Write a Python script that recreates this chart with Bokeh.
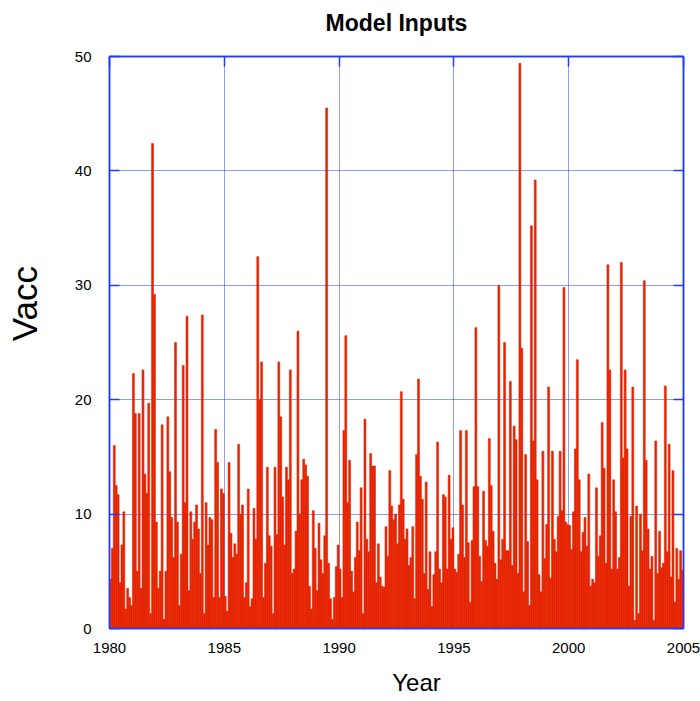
from bokeh.plotting import figure
from bokeh.models import FixedTicker, LinearAxis, Range1d, ColumnDataSource
from bokeh.embed import file_html
from bokeh.resources import INLINE

# Monthly Vacc model input, one list per five-year block (Jan..Dec per row)
vacc_1980_1984 = [
    4.3, 7, 16, 12.5, 11.7, 4, 7.3, 10.2, 1.7, 3.5, 2.7, 2,
    22.3, 18.8, 5, 18.8, 3.5, 22.6, 13.5, 11.8, 19.7, 1.3, 42.4, 29.2,
    9.3, 3.5, 5, 17.8, 0.8, 5, 18.5, 13.7, 9.7, 6.2, 25, 9.3,
    2, 6.5, 23, 11, 27.3, 3.3, 10.2, 7.8, 9.3, 10.8, 8.7, 4.8,
    27.4, 1.3, 11, 7.3, 9.7, 9.5, 2.7, 17.4, 14.5, 2.7, 12.2, 11.8,
]
vacc_1985_1989 = [
    2.8, 1.5, 14.5, 8.3, 6.2, 7.4, 6.5, 16.1, 10, 10.8, 2.7, 4,
    12.2, 1.9, 2.6, 10.5, 7.8, 32.5, 20, 23.3, 2.7, 5.7, 14.1, 8.1,
    7.2, 1.3, 14.1, 8.2, 23.3, 18.5, 11.5, 7.3, 14.1, 13, 22.6, 4.8,
    5.2, 8.5, 26, 10, 13, 14.8, 14.3, 13.3, 3.7, 1.7, 10.3, 7,
    3.3, 9.2, 6, 4.8, 8.1, 45.5, 5.7, 2.6, 0.8, 2.7, 5.4, 7.3,
]
vacc_1990_1994 = [
    5.2, 2.7, 17.3, 25.6, 11, 14.7, 5, 3.2, 6.2, 9.3, 6.8, 12.3,
    1.3, 18.3, 7.8, 6.7, 15.3, 14.2, 14.2, 4, 7.4, 4.5, 3.7, 3.6,
    8.9, 6.3, 13.8, 10.7, 9.5, 10, 7.4, 10.8, 20.7, 11.3, 7.8, 8.7,
    5.5, 6.2, 8.9, 2.6, 15.2, 21.8, 13.3, 11.3, 4.8, 12.8, 3.4, 6.7,
    1.9, 4.7, 6.7, 16.3, 5.2, 4, 11.7, 11.5, 5.2, 13.4, 7.8, 8.8,
]
vacc_1995_1999 = [
    5.2, 4.9, 6.5, 17.3, 10.8, 6.2, 17.3, 7.5, 2.3, 7.7, 12.4, 26.3,
    12.4, 6.3, 4.1, 12, 7.7, 7.2, 16.6, 12.5, 8.5, 5.7, 4.3, 30,
    6, 7.8, 25, 6.8, 6.8, 21.6, 5.5, 17.7, 16.5, 4.8, 49.4, 24.5,
    3.2, 15.2, 7.6, 2, 35.2, 16.4, 39.2, 13, 4.7, 3.2, 15.5, 6.1,
    9.1, 21.1, 4.4, 15.5, 7.8, 6.7, 9.8, 15.5, 10.3, 29.8, 9.3, 9.1,
]
vacc_2000_2004 = [
    9, 6.9, 10.2, 15.7, 23.5, 13, 6.7, 8.4, 9.7, 7.2, 13.5, 3.7,
    4.3, 4, 12.3, 6.3, 8.1, 18, 14, 5.7, 31.8, 22.6, 5.2, 13,
    10.2, 5.2, 6.2, 32, 14.9, 22.6, 15.7, 3.7, 9.8, 21.1, 0.7, 10.7,
    1.3, 10, 6.8, 30.4, 14.7, 8.7, 5.2, 6.3, 0.7, 16.4, 4.8, 8.5,
    5.3, 5.7, 21.2, 6.7, 16.1, 4.5, 13.8, 2.3, 7, 4.3, 6.8, 5.1,
]

start_year = 1980
year_ticks = [1980, 1985, 1990, 1995, 2000, 2005]
vacc_ticks = [0, 10, 20, 30, 40, 50]

vacc = (vacc_1980_1984 + vacc_1985_1989 + vacc_1990_1994
        + vacc_1995_1999 + vacc_2000_2004)
month_mid = [start_year + (i + 0.5) / 12 for i in range(len(vacc))]
src = ColumnDataSource(data=dict(t=month_mid, v=vacc))

BLUE = "#1e3cff"
GRID = "#1a3aff"
RED = "#e52400"
FONT = "Liberation Sans"
NBSP = "\u00a0"

p = figure(
    width=700, height=701,
    x_range=Range1d(year_ticks[0], year_ticks[-1]),
    y_range=Range1d(vacc_ticks[0], vacc_ticks[-1]),
    output_backend="svg", toolbar_location=None,
    min_border_left=109, min_border_right=17,
    min_border_top=56, min_border_bottom=73,
    # the trailing empty line lifts the title away from the frame
    title="Model Inputs\n",
)
p.background_fill_color = "white"
p.border_fill_color = "white"
p.outline_line_color = BLUE
p.outline_line_width = 1.5

p.title.align = "center"
p.title.vertical_align = "bottom"
p.title.text_font = FONT
p.title.text_font_size = "23px"
p.title.text_font_style = "bold"
p.title.text_color = "black"
p.title.text_line_height = 0.8
p.title.standoff = 0

# monthly bars; a thin outline in the fill colour closes the seams between them
p.vbar(x="t", top="v", bottom=0, width=1 / 12, source=src,
       fill_color=RED, line_color=RED, line_width=0.6)

xax = p.xaxis[0]
yax = p.yaxis[0]
xax.ticker = FixedTicker(ticks=year_ticks)
yax.ticker = FixedTicker(ticks=vacc_ticks)
for ax in (xax, yax):
    ax.axis_line_color = BLUE
    ax.axis_line_width = 1.5
    ax.major_tick_line_color = BLUE
    ax.major_tick_line_width = 1.5
    ax.major_tick_out = 0
    ax.minor_tick_line_color = None
    ax.major_label_text_font = FONT
    ax.major_label_text_font_size = "15px"
    ax.major_label_text_color = "black"
    ax.axis_label_text_font = FONT
    ax.axis_label_text_font_style = "normal"
    ax.axis_label_text_color = "black"
xax.major_tick_in = 0
yax.major_tick_in = 10
xax.major_label_standoff = 14
yax.major_label_standoff = 18
# leading no-break spaces move the centred axis titles off the frame centre
xax.axis_label = NBSP * 6 + "Year"
xax.axis_label_text_font_size = "24px"
xax.axis_label_standoff = 13
yax.axis_label = NBSP * 8 + "Vacc"
yax.axis_label_text_font_size = "35px"
yax.axis_label_standoff = 28

# tick marks on the opposite sides, no labels
top = LinearAxis(ticker=FixedTicker(ticks=year_ticks))
right = LinearAxis(ticker=FixedTicker(ticks=vacc_ticks))
for ax, ticks in ((top, year_ticks), (right, vacc_ticks)):
    ax.major_label_overrides = {t: "" for t in ticks}
    ax.major_label_text_font_size = "0px"
    ax.major_label_standoff = 0
    ax.axis_line_color = BLUE
    ax.axis_line_width = 1.5
    ax.major_tick_line_color = BLUE
    ax.major_tick_line_width = 1.5
    ax.major_tick_in = 10
    ax.major_tick_out = 0
    ax.minor_tick_line_color = None
p.add_layout(top, "above")
p.add_layout(right, "right")

for g, ticks in ((p.xgrid[0], year_ticks), (p.ygrid[0], vacc_ticks)):
    g.ticker = FixedTicker(ticks=ticks)
    g.grid_line_color = GRID
    g.grid_line_width = 1
    g.grid_line_dash = "1 1"

open("out.html", "w").write(file_html(p, INLINE))
